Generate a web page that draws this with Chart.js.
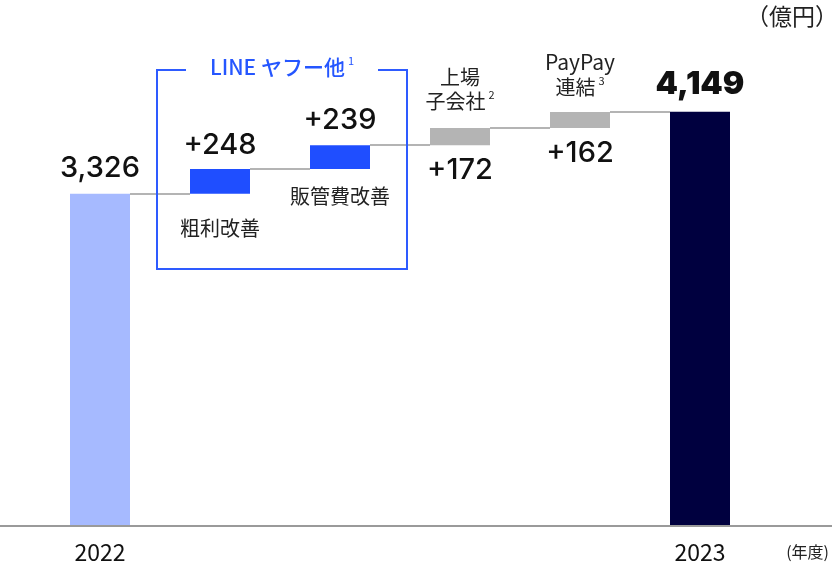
<!DOCTYPE html>
<html><head><meta charset="utf-8">
<script src="https://cdn.jsdelivr.net/npm/chart.js@4"></script>
<style>html,body{margin:0;padding:0;background:#fff}canvas{display:block}</style>
</head><body>
<canvas id="c" width="832" height="586"></canvas>
<script>
const categories = ["2022", "粗利改善", "販管費改善", "上場子会社", "PayPay連結", "2023"];
const startValue = 3326;
const deltas = [248, 239, 172, 162];
const endValue = 4149;
const valueLabels = ["3,326", "+248", "+239", "+172", "+162", "4,149"];
const axisLabels = ["2022", "", "", "", "", "2023"];

const cum = [startValue];
deltas.forEach(d => cum.push(cum[cum.length - 1] + d));
const floating = [[0, startValue]];
for (let i = 0; i < deltas.length; i++) floating.push([cum[i], cum[i + 1]]);
floating.push([0, endValue]);

const colors = ["#A6BAFF", "#1F4EFF", "#1F4EFF", "#B4B4B4", "#B4B4B4", "#00003F"];
const NUM = "Inter, 'Noto Sans', sans-serif";
const JP = "'Noto Sans CJK JP', sans-serif";

function txt(ctx, s, x, y, font, color, align) {
  ctx.font = font; ctx.fillStyle = color || "#111"; ctx.textAlign = align || "center"; ctx.textBaseline = "middle";
  ctx.fillText(s, x, y);
}
function txtSup(ctx, s, sup, x, y, font, supFont, color) {
  ctx.font = font; const w = ctx.measureText(s).width;
  ctx.font = supFont; const ws = ctx.measureText(sup).width;
  const total = w + 3 + ws; const x0 = x - total / 2;
  txt(ctx, s, x0, y, font, color, "left");
  txt(ctx, sup, x0 + w + 3, y - 6, supFont, color, "left");
}

const deco = {
  id: "deco",
  afterDatasetsDraw(chart) {
    const ctx = chart.ctx, xs = chart.scales.x, ys = chart.scales.y;
    const meta = chart.getDatasetMeta(0);
    ctx.save();
    // connectors
    ctx.strokeStyle = "#B4B4B4"; ctx.lineWidth = 2;
    const levels = [startValue].concat(cum.slice(1));
    for (let i = 0; i < meta.data.length - 1; i++) {
      const a = meta.data[i], b = meta.data[i + 1];
      const yy = Math.round(ys.getPixelForValue(levels[i]));
      ctx.beginPath(); ctx.moveTo(a.x + a.width / 2, yy); ctx.lineTo(b.x - b.width / 2, yy); ctx.stroke();
    }
    // baseline
    const y0 = ys.getPixelForValue(0);
    ctx.strokeStyle = "#9A9A9A"; ctx.lineWidth = 2;
    ctx.beginPath(); ctx.moveTo(0, y0 + 1); ctx.lineTo(chart.width, y0 + 1); ctx.stroke();

    // group box
    const bx1 = xs.getPixelForValue(1) - 63, bx2 = xs.getPixelForValue(2) + 67;
    const by1 = 70, by2 = 269;
    ctx.strokeStyle = "#2E5BFF"; ctx.lineWidth = 2;
    ctx.beginPath();
    ctx.moveTo(186, by1); ctx.lineTo(bx1, by1); ctx.lineTo(bx1, by2); ctx.lineTo(bx2, by2); ctx.lineTo(bx2, by1); ctx.lineTo(378, by1);
    ctx.stroke();
    txtSup(ctx, "LINE ヤフー他", "1", (bx1 + bx2) / 2, 67, "500 21px " + JP, "400 11px " + JP, "#2556FF");

    // value labels
    const numFont = "500 29px " + NUM;
    const tops = meta.data.map(b => Math.min(b.y, b.base));
    const bots = meta.data.map(b => Math.max(b.y, b.base));
    txt(ctx, valueLabels[0], meta.data[0].x, tops[0] - 25, numFont, "#111");
    txt(ctx, valueLabels[1], meta.data[1].x, tops[1] - 24, numFont, "#111");
    txt(ctx, valueLabels[2], meta.data[2].x, tops[2] - 25, numFont, "#111");
    txt(ctx, valueLabels[3], meta.data[3].x, bots[3] + 25, numFont, "#111");
    txt(ctx, valueLabels[4], meta.data[4].x, bots[4] + 25, numFont, "#111");
    txt(ctx, valueLabels[5], meta.data[5].x, tops[5] - 27, "900 32px " + NUM, "#111");

    // category captions
    const jf = "400 20px " + JP, sf = "400 11px " + JP;
    txt(ctx, "粗利改善", meta.data[1].x, bots[1] + 35, jf, "#222");
    txt(ctx, "販管費改善", meta.data[2].x, bots[2] + 27, jf, "#222");
    txt(ctx, "上場", meta.data[3].x, 77, jf, "#222");
    txtSup(ctx, "子会社", "2", meta.data[3].x, 101, jf, sf, "#222");
    txt(ctx, "PayPay", meta.data[4].x, 62, "400 21px " + JP, "#222");
    txtSup(ctx, "連結", "3", meta.data[4].x, 87, jf, sf, "#222");

    // axis labels
    axisLabels.forEach((s, i) => { if (s) txt(ctx, s, meta.data[i].x, 552, "400 23px " + JP, "#111"); });
    txt(ctx, "(年度)", 829, 552, "400 16px " + JP, "#222", "right");
    txt(ctx, "（億円）", 838, 16, "400 23px " + JP, "#222", "right");
    ctx.restore();
  }
};

new Chart(document.getElementById("c"), {
  type: "bar",
  data: {
    labels: categories,
    datasets: [{ data: floating, backgroundColor: colors, borderWidth: 0, barPercentage: 0.5, categoryPercentage: 1.0 }]
  },
  options: {
    responsive: false, animation: false, devicePixelRatio: 1,
    layout: { padding: { left: 40, right: 72, top: 27, bottom: 61 } },
    plugins: { legend: { display: false }, tooltip: { enabled: false } },
    scales: {
      x: { display: false },
      y: { display: false, min: 0, max: 5000 }
    }
  },
  plugins: [deco]
});
</script>
</body></html>
